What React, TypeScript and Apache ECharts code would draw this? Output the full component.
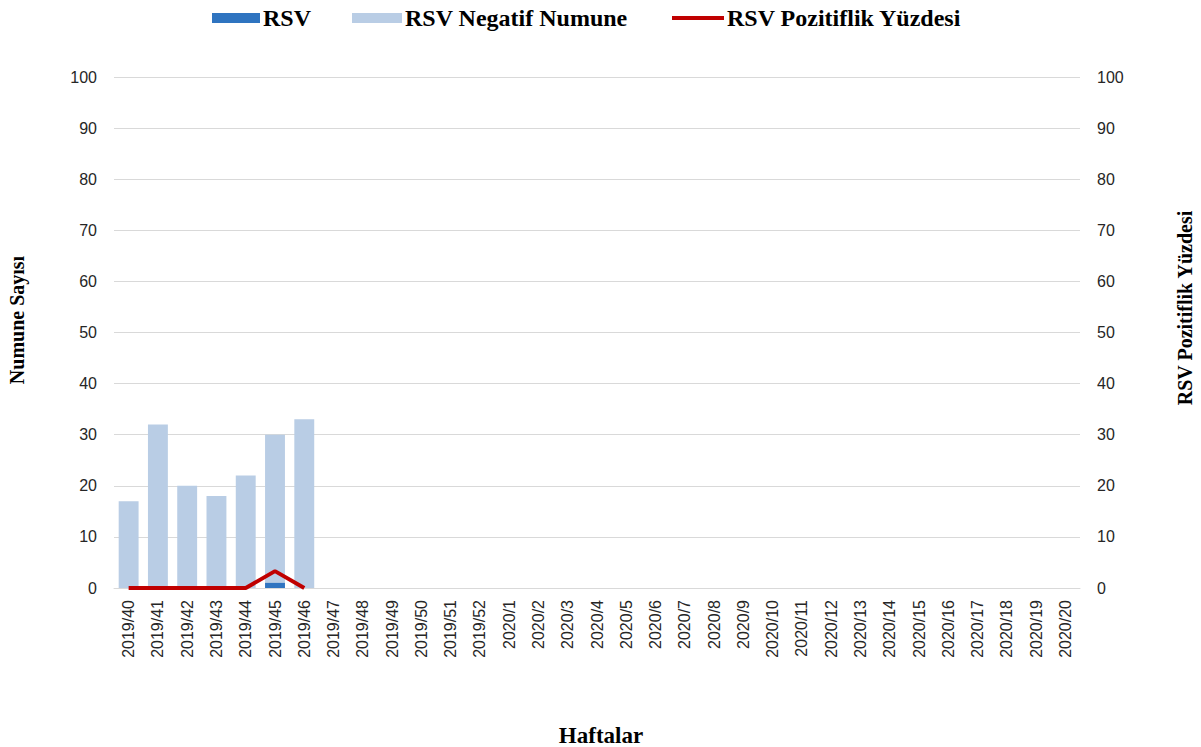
import React, { useEffect, useRef } from "react";
import * as echarts from "echarts";

const weeks: string[] = [
  "2019/40", "2019/41", "2019/42", "2019/43", "2019/44", "2019/45", "2019/46",
  "2019/47", "2019/48", "2019/49", "2019/50", "2019/51", "2019/52",
  "2020/1", "2020/2", "2020/3", "2020/4", "2020/5", "2020/6", "2020/7",
  "2020/8", "2020/9", "2020/10", "2020/11", "2020/12", "2020/13", "2020/14",
  "2020/15", "2020/16", "2020/17", "2020/18", "2020/19", "2020/20",
];

const rsvPositive: (number | null)[] = [0, 0, 0, 0, 0, 1, 0];
const rsvNegative: (number | null)[] = [17, 32, 20, 18, 22, 30, 33];
const rsvPercent: (number | null)[] = [0, 0, 0, 0, 0, 3.3, 0];

const leftTicks = { min: 0, max: 100, interval: 10 };
const rightTicks = { min: 0, max: 100, interval: 10 };

const SERIF = "'Liberation Serif', 'Times New Roman', serif";
const SANS = "'Liberation Sans', Arial, sans-serif";

export default function App() {
  const ref = useRef<HTMLDivElement>(null);

  useEffect(() => {
    if (!ref.current) return;
    const chart = echarts.init(ref.current, undefined, { renderer: "svg" });
    const legendText = {
      fontFamily: SERIF, fontWeight: "bold", fontSize: 24, color: "#000", padding: [0, 0, 0, -2],
    };
    chart.setOption({
      animation: false,
      backgroundColor: "#ffffff",
      legend: [
        {
          data: ["RSV"], left: 212, top: 6, padding: 0, icon: "rect",
          itemWidth: 48, itemHeight: 10, textStyle: legendText, selectedMode: false,
        },
        {
          data: ["RSV Negatif Numune"], left: 352, top: 6, padding: 0, icon: "rect",
          itemWidth: 50, itemHeight: 10, textStyle: legendText, selectedMode: false,
        },
        {
          data: ["RSV Pozitiflik Yüzdesi"], left: 672, top: 6, padding: 0, icon: "rect",
          itemWidth: 52, itemHeight: 4, textStyle: legendText, selectedMode: false,
        },
      ],
      grid: { left: 114, right: 121, top: 77, bottom: 159, containLabel: false },
      xAxis: {
        type: "category",
        data: weeks,
        axisLine: { show: true, lineStyle: { color: "#d9d9d9", width: 1 } },
        axisTick: { show: false },
        axisLabel: {
          rotate: 90, interval: 0, margin: 12,
          fontFamily: SANS, fontSize: 16, color: "#262626",
        },
      },
      yAxis: [
        {
          type: "value", ...leftTicks,
          axisLine: { show: false }, axisTick: { show: false },
          splitLine: { lineStyle: { color: "#d9d9d9", width: 1 } },
          axisLabel: { margin: 17, fontFamily: SANS, fontSize: 16, color: "#262626" },
        },
        {
          type: "value", ...rightTicks, position: "right",
          axisLine: { show: false }, axisTick: { show: false },
          splitLine: { show: false },
          axisLabel: { margin: 17, fontFamily: SANS, fontSize: 16, color: "#262626" },
        },
      ],
      series: [
        {
          name: "RSV Negatif Numune",
          type: "bar",
          data: rsvNegative,
          barCategoryGap: "32%",
          barGap: "-100%",
          itemStyle: { color: "#b9cde5" },
          z: 2,
        },
        {
          name: "RSV",
          type: "bar",
          data: rsvPositive,
          barCategoryGap: "32%",
          barGap: "-100%",
          itemStyle: { color: "#2f74c0" },
          z: 3,
        },
        {
          name: "RSV Pozitiflik Yüzdesi",
          type: "line",
          yAxisIndex: 1,
          data: rsvPercent,
          showSymbol: false,
          symbol: "none",
          itemStyle: { color: "#c00000" },
          lineStyle: { color: "#c00000", width: 4 },
          z: 4,
        },
      ],
      graphic: [
        {
          type: "text", x: 17, y: 320, rotation: Math.PI / 2,
          style: {
            text: "Numune Sayısı", fontFamily: SERIF, fontWeight: "bold", fontSize: 20,
            fill: "#000", align: "center", verticalAlign: "middle",
          },
        },
        {
          type: "text", x: 1185, y: 308, rotation: Math.PI / 2,
          style: {
            text: "RSV Pozitiflik Yüzdesi", fontFamily: SERIF, fontWeight: "bold", fontSize: 20,
            fill: "#000", align: "center", verticalAlign: "middle",
          },
        },
        {
          type: "text", x: 601, y: 735,
          style: {
            text: "Haftalar", fontFamily: SERIF, fontWeight: "bold", fontSize: 23,
            fill: "#000", align: "center", verticalAlign: "middle",
          },
        },
      ],
    });
    return () => chart.dispose();
  }, []);

  return (
    <div
      ref={ref}
      style={{ position: "absolute", left: 0, top: 0, width: 1201, height: 747 }}
    />
  );
}
